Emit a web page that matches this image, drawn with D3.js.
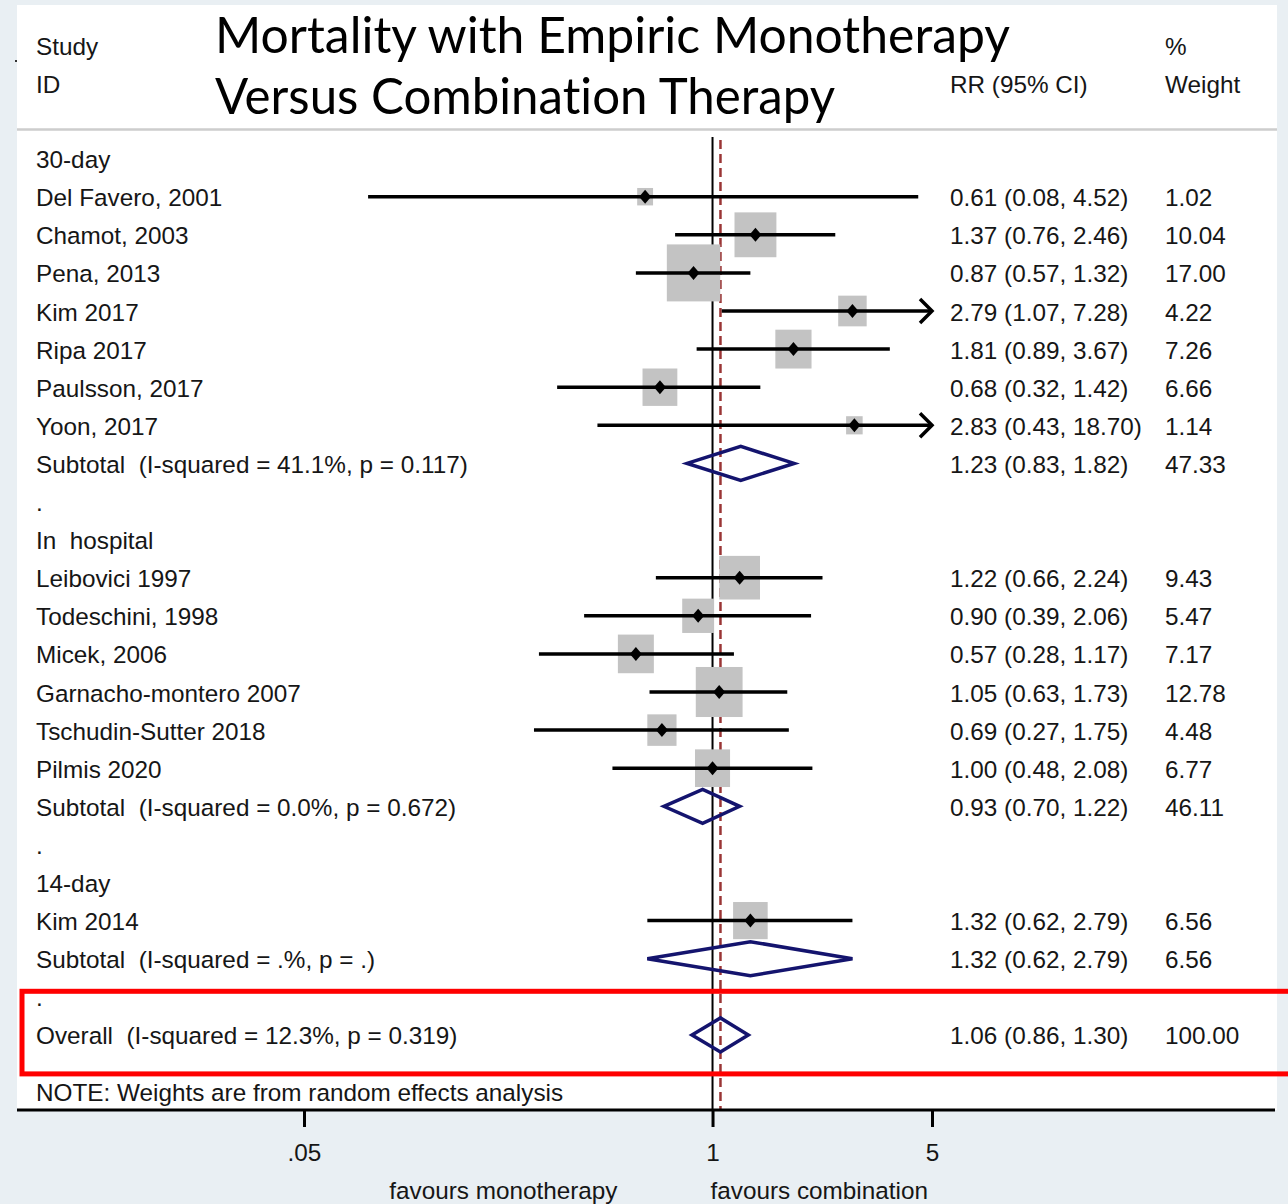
<!DOCTYPE html>
<html>
<head>
<meta charset="utf-8">
<script src="https://cdn.jsdelivr.net/npm/d3@7"></script>
<style>
  html, body { margin: 0; padding: 0; background: #e9eff3; }
  svg { display: block; }
  text { white-space: pre; font-variant-ligatures: none; }
</style>
</head>
<body>
<svg id="chart" width="1288" height="1204"></svg>
<script>
// Forest plot rows, top to bottom
const rowLabels = [
  "30-day", "Del Favero, 2001", "Chamot, 2003", "Pena, 2013", "Kim 2017", "Ripa 2017",
  "Paulsson, 2017", "Yoon, 2017", "Subtotal  (I-squared = 41.1%, p = 0.117)", ".",
  "In  hospital", "Leibovici 1997", "Todeschini, 1998", "Micek, 2006", "Garnacho-montero 2007",
  "Tschudin-Sutter 2018", "Pilmis 2020", "Subtotal  (I-squared = 0.0%, p = 0.672)", ".",
  "14-day", "Kim 2014", "Subtotal  (I-squared = .%, p = .)", ".",
  "Overall  (I-squared = 12.3%, p = 0.319)"
];
const rowTypes = [
  "head", "study", "study", "study", "study", "study", "study", "study", "sub", "blank",
  "head", "study", "study", "study", "study", "study", "study", "sub", "blank",
  "head", "study", "sub", "blank", "overall"
];
const estimates = [null, 0.61, 1.37, 0.87, 2.79, 1.81, 0.68, 2.83, 1.23, null,
  null, 1.22, 0.90, 0.57, 1.05, 0.69, 1.00, 0.93, null,
  null, 1.32, 1.32, null, 1.06];
const lowerCI = [null, 0.08, 0.76, 0.57, 1.07, 0.89, 0.32, 0.43, 0.83, null,
  null, 0.66, 0.39, 0.28, 0.63, 0.27, 0.48, 0.70, null,
  null, 0.62, 0.62, null, 0.86];
const upperCI = [null, 4.52, 2.46, 1.32, 7.28, 3.67, 1.42, 18.70, 1.82, null,
  null, 2.24, 2.06, 1.17, 1.73, 1.75, 2.08, 1.22, null,
  null, 2.79, 2.79, null, 1.30];
const weights = [null, 1.02, 10.04, 17.00, 4.22, 7.26, 6.66, 1.14, 47.33, null,
  null, 9.43, 5.47, 7.17, 12.78, 4.48, 6.77, 46.11, null,
  null, 6.56, 6.56, null, 100.00];

const tickValues = [0.05, 1, 5];
const tickLabels = [".05", "1", "5"];
const overallEstimate = 1.06;
const titleLines = ["Mortality with Empiric Monotherapy", "Versus Combination Therapy"];

const svg = d3.select("#chart");
const W = 1288, H = 1204;
const bodyFont = "'Liberation Sans', Arial, sans-serif";
const bodySize = 24.3;
const textColor = "#161616";

// page background and white plot panel
svg.append("rect").attr("width", W).attr("height", H).attr("fill", "#e9eff3");
const panel = { x: 17, y: 5, w: 1260, h: 1105 };
svg.append("rect").attr("x", panel.x).attr("y", panel.y)
  .attr("width", panel.w).attr("height", panel.h).attr("fill", "#ffffff");

// scales
const x = d3.scaleLog().domain([0.05, 5]).range([304, 932]);
const y = d3.scaleLinear().domain([0, 23]).range([158.6, 1034.9]);
const boxW = d3.scalePow().exponent(0.5).domain([0, 17]).range([3.7, 53.4]);
const boxH = d3.scalePow().exponent(0.5).domain([0, 17]).range([4.6, 57]);
const xMax = x.domain()[1];
const clampX = v => x(Math.min(v, xMax));

// header
const hdr = svg.append("g").attr("font-family", bodyFont).attr("font-size", bodySize).attr("fill", textColor);
hdr.append("text").attr("x", 36).attr("y", 55).text("Study");
hdr.append("text").attr("x", 36).attr("y", 93).text("ID");
hdr.append("text").attr("x", 950).attr("y", 93).text("RR (95% CI)");
hdr.append("text").attr("x", 1165).attr("y", 55).text("%");
hdr.append("text").attr("x", 1165).attr("y", 93).text("Weight");
svg.append("rect").attr("x", 15).attr("y", 60).attr("width", 2).attr("height", 2).attr("fill", "#333");

svg.append("line").attr("x1", panel.x).attr("x2", panel.x + panel.w)
  .attr("y1", 129.5).attr("y2", 129.5).attr("stroke", "#cdcdcd").attr("stroke-width", 2.5);

// title
const title = svg.append("g").attr("font-family", "Lato, 'Open Sans', sans-serif")
  .attr("font-size", 51).attr("fill", "#000");
title.append("text").attr("x", 215).attr("y", 53)
  .attr("textLength", 795).attr("lengthAdjust", "spacingAndGlyphs").text(titleLines[0]);
title.append("text").attr("x", 215).attr("y", 114)
  .attr("textLength", 620).attr("lengthAdjust", "spacingAndGlyphs").text(titleLines[1]);

// reference lines: no effect and overall estimate
svg.append("line").attr("x1", x(1)).attr("x2", x(1)).attr("y1", 137).attr("y2", 1110)
  .attr("stroke", "#000").attr("stroke-width", 2);
svg.append("line").attr("x1", x(overallEstimate)).attr("x2", x(overallEstimate))
  .attr("y1", 140).attr("y2", 1110)
  .attr("stroke", "#9a3535").attr("stroke-width", 2.5).attr("stroke-dasharray", "9,5");

// row labels, estimates and weights
const fmt = d3.format(".2f");
const rowsG = svg.append("g").attr("font-family", bodyFont).attr("font-size", bodySize).attr("fill", textColor);
rowLabels.forEach((lab, i) => {
  rowsG.append("text").attr("x", 36).attr("y", y(i) + 9.5).text(lab);
  if (estimates[i] != null) {
    rowsG.append("text").attr("x", 950).attr("y", y(i) + 9.5)
      .text(`${fmt(estimates[i])} (${fmt(lowerCI[i])}, ${fmt(upperCI[i])})`);
    rowsG.append("text").attr("x", 1165).attr("y", y(i) + 9.5).text(fmt(weights[i]));
  }
});

// study markers: weight boxes, CI lines, point estimates
const studyIdx = d3.range(rowLabels.length).filter(i => rowTypes[i] === "study");
const marks = svg.append("g");
studyIdx.forEach(i => {
  const cy = y(i), cx = x(estimates[i]);
  const bw = boxW(weights[i]), bh = boxH(weights[i]);
  marks.append("rect").attr("x", cx - bw / 2).attr("y", cy - bh / 2)
    .attr("width", bw).attr("height", bh).attr("fill", "#c3c3c3");
});
studyIdx.forEach(i => {
  const cy = y(i), cx = x(estimates[i]);
  marks.append("line").attr("x1", x(lowerCI[i])).attr("x2", clampX(upperCI[i]))
    .attr("y1", cy).attr("y2", cy).attr("stroke", "#000").attr("stroke-width", 3.5);
  if (upperCI[i] > xMax) {
    const ax = x(xMax);
    marks.append("path")
      .attr("d", `M${ax - 12},${cy - 12}L${ax},${cy}L${ax - 12},${cy + 12}`)
      .attr("fill", "none").attr("stroke", "#000").attr("stroke-width", 3.5);
  }
  marks.append("path")
    .attr("d", `M${cx},${cy - 7}L${cx + 6},${cy}L${cx},${cy + 7}L${cx - 6},${cy}Z`)
    .attr("fill", "#000");
});

// pooled diamonds
const pooledIdx = d3.range(rowLabels.length).filter(i => rowTypes[i] === "sub" || rowTypes[i] === "overall");
pooledIdx.forEach(i => {
  const cy = y(i), hh = 17;
  marks.append("path")
    .attr("d", `M${x(lowerCI[i])},${cy}L${x(estimates[i])},${cy - hh}L${x(upperCI[i])},${cy}L${x(estimates[i])},${cy + hh}Z`)
    .attr("fill", "none").attr("stroke", "#14146e").attr("stroke-width", 3.5)
    .attr("stroke-linejoin", "miter");
});

// note
svg.append("text").attr("font-family", bodyFont).attr("font-size", bodySize).attr("fill", textColor)
  .attr("x", 36).attr("y", 1101).text("NOTE: Weights are from random effects analysis");

// highlight box around overall result
const oi = rowTypes.indexOf("overall");
svg.append("rect").attr("x", 22).attr("y", y(oi - 1) - 5.5)
  .attr("width", 1290).attr("height", y(oi) + 39 - (y(oi - 1) - 5.5))
  .attr("fill", "none").attr("stroke", "#ff0000").attr("stroke-width", 5);

// x axis
const axisY = 1110;
const axisG = svg.append("g").attr("transform", `translate(0,${axisY})`);
axisG.call(d3.axisBottom(x).tickValues(tickValues)
  .tickFormat((d, i) => tickLabels[i]).tickSize(17).tickPadding(17));
axisG.select(".domain").remove();
axisG.selectAll(".tick line").attr("stroke", "#000").attr("stroke-width", 3);
axisG.selectAll(".tick text").attr("font-family", bodyFont).attr("font-size", bodySize).attr("fill", textColor);
svg.append("line").attr("x1", panel.x).attr("x2", 1275).attr("y1", axisY).attr("y2", axisY)
  .attr("stroke", "#000").attr("stroke-width", 3);

// favours labels
const fav = svg.append("g").attr("font-family", bodyFont).attr("font-size", bodySize).attr("fill", textColor);
fav.append("text").attr("x", x(1) - 95).attr("y", 1199).attr("text-anchor", "end").text("favours monotherapy");
fav.append("text").attr("x", x(1) - 2).attr("y", 1199).text("favours combination");
</script>
</body>
</html>
